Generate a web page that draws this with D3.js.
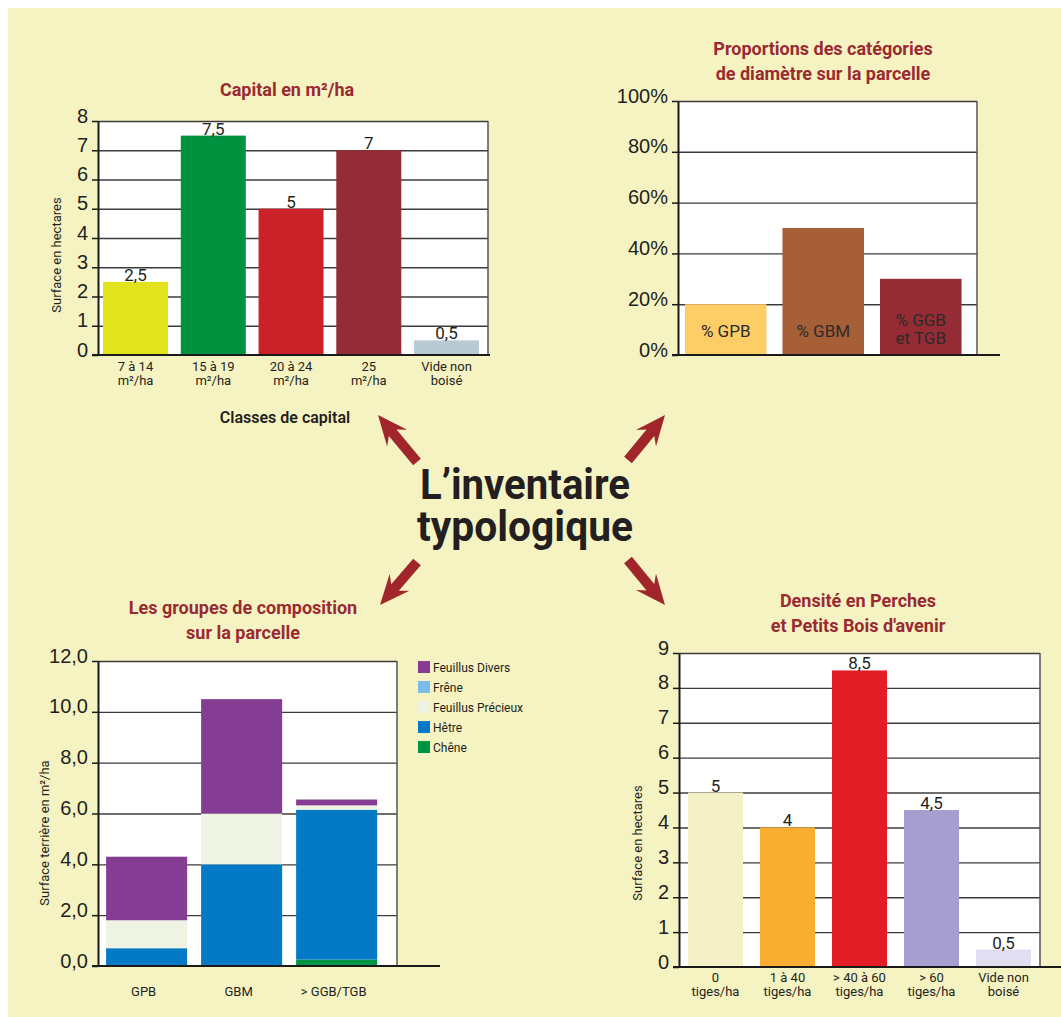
<!DOCTYPE html>
<html>
<head>
<meta charset="utf-8">
<script src="https://cdn.jsdelivr.net/npm/d3@7"></script>
<style>
body { margin: 0; background: #fff; }
svg { display: block; font-family: 'Roboto', 'Liberation Sans', sans-serif; }
.title { fill: #9a2a32; font-size: 18px; font-weight: bold; text-anchor: middle; }
.grid line { stroke: #3c3c3c; stroke-width: 1.4; }
.axis-y .domain { stroke: #1a1a1a; stroke-width: 2; }
.axis-y line { stroke: #1a1a1a; stroke-width: 1.5; }
.axis-y text { fill: #231f20; font-size: 20px; }
.cat { fill: #231f20; font-size: 13px; text-anchor: middle; }
.inlab { fill: #2b2b2b; font-size: 17px; text-anchor: middle; }
.val { fill: #231f20; font-size: 17px; text-anchor: middle; }
.ylabel { fill: #231f20; font-size: 13px; text-anchor: middle; }
.legend text { fill: #231f20; font-size: 12px; }
</style>
</head>
<body>
<svg id="page" width="1061" height="1017"></svg>
<script>
//CAPITAL CHART DATA
var capitalClasses = ['7 à 14\nm²/ha', '15 à 19\nm²/ha', '20 à 24\nm²/ha', '25\nm²/ha', 'Vide non\nboisé'];
var capitalSurface = [2.5, 7.5, 5, 7, 0.5];
var capitalTicks = [0, 1, 2, 3, 4, 5, 6, 7, 8];

//DIAMETER PROPORTIONS DATA
var diamCategories = ['% GPB', '% GBM', '% GGB\net TGB'];
var diamShare = [20, 50, 30];
var diamTicks = [0, 20, 40, 60, 80, 100];

//COMPOSITION GROUPS DATA (stacked, bottom to top)
var compoGroups = ['GPB', 'GBM', '> GGB/TGB'];
var compoSpecies = ['Chêne', 'Hêtre', 'Feuillus Précieux', 'Frêne', 'Feuillus Divers'];
var chene = [0, 0, 0.25];
var hetre = [0.7, 4.0, 5.9];
var feuillusPrecieux = [1.1, 2.0, 0.17];
var frene = [0, 0, 0];
var feuillusDivers = [2.5, 4.5, 0.23];
var compoTicks = [0, 2, 4, 6, 8, 10, 12];

//DENSITY DATA
var densiteClasses = ['0\ntiges/ha', '1 à 40\ntiges/ha', '> 40 à 60\ntiges/ha', '> 60\ntiges/ha', 'Vide non\nboisé'];
var densiteSurface = [5, 4, 8.5, 4.5, 0.5];
var densiteTicks = [0, 1, 2, 3, 4, 5, 6, 7, 8, 9];

//colours
var capitalColors = ['#e2e31b', '#00923f', '#cb2229', '#942b36', '#b9cad3'];
var diamColors = ['#fdcd68', '#a65f37', '#952b35'];
var speciesColors = {'Chêne': '#009444', 'Hêtre': '#0479c6', 'Feuillus Précieux': '#eef3e3', 'Frêne': '#79bde8', 'Feuillus Divers': '#853d93'};
var densiteColors = ['#f5f1c6', '#f8ae31', '#e21d26', '#a59ecf', '#e0def0'];

var comma = d => String(d).replace('.', ',');

var svg = d3.select('#page');

//page background
svg.append('rect').attr('x', 8).attr('y', 8).attr('width', 1053).attr('height', 1009).attr('fill', '#f6f3c2');

//build frame: white plot, gridlines, scales
function frame(c) {
    var x = d3.scaleBand().domain(c.cats).range([c.left, c.right])
        .paddingInner(c.pi).paddingOuter(c.po).align(c.align);
    var y = d3.scaleLinear().domain([0, c.ticks[c.ticks.length - 1]]).range([c.bottom, c.top]);
    var g = svg.append('g');

    g.append('rect')
        .attr('x', c.left).attr('y', c.top)
        .attr('width', c.right - c.left).attr('height', c.bottom - c.top)
        .attr('fill', '#fff');

    //y gridlines
    g.append('g')
        .attr('class', 'grid')
        .attr('transform', 'translate(' + c.left + ',0)')
        .call(d3.axisLeft(y).tickValues(c.ticks.slice(1)).tickSize(-(c.right - c.left)).tickFormat(''))
        .call(s => s.select('.domain').remove());

    //right border
    g.append('line')
        .attr('x1', c.right).attr('x2', c.right).attr('y1', c.top).attr('y2', c.bottom)
        .attr('stroke', '#555').attr('stroke-width', 1.5);

    return {g: g, x: x, y: y};
}

//axes drawn over bars
function axes(f, c) {
    f.g.append('g')
        .attr('class', 'axis-y')
        .attr('transform', 'translate(' + c.left + ',0)')
        .call(d3.axisLeft(f.y).tickValues(c.ticks).tickSize(6).tickSizeOuter(0).tickPadding(4).tickFormat(c.fmt))
        .call(s => s.selectAll('text').attr('dy', '0.05em'));

    f.g.append('line')
        .attr('x1', c.left - 6).attr('x2', c.axisEnd)
        .attr('y1', c.bottom).attr('y2', c.bottom)
        .attr('stroke', '#1a1a1a').attr('stroke-width', 2.2);
}

function multiline(sel, label, y0, lh) {
    label.split('\n').forEach((t, i) => {
        sel.append('tspan').attr('x', sel.attr('x')).attr('y', y0 + i * lh).text(t);
    });
}

function titleLines(lines, cx, y0) {
    lines.forEach((t, i) => {
        svg.append('text').attr('class', 'title').attr('x', cx).attr('y', y0 + i * 25).text(t);
    });
}

function ylabel(text, x, y) {
    svg.append('text').attr('class', 'ylabel')
        .attr('transform', 'translate(' + x + ',' + y + ') rotate(-90)')
        .text(text);
}

//SIMPLE BAR CHART
function simpleBars(c, values, colors) {
    var f = frame(c);
    var data = c.cats.map((k, i) => ({k: k, v: values[i], col: colors[i]}));

    f.g.selectAll('.bar').data(data).enter().append('rect')
        .attr('class', 'bar')
        .attr('x', d => f.x(d.k))
        .attr('y', d => f.y(d.v))
        .attr('width', f.x.bandwidth())
        .attr('height', d => f.y(0) - f.y(d.v))
        .attr('fill', d => d.col);

    if (c.values) {
        f.g.selectAll('.val').data(data).enter().append('text')
            .attr('class', 'val')
            .attr('x', d => f.x(d.k) + f.x.bandwidth() / 2)
            .attr('y', d => f.y(d.v) - 1)
            .text(d => comma(d.v));
    }
    axes(f, c);
    return f;
}

//1. Capital
var c1 = {cats: capitalClasses, ticks: capitalTicks, left: 98, right: 488, top: 121, bottom: 355,
          pi: 0.164, po: 0.09, align: 0.36, axisEnd: 490, fmt: d => d, values: true};
var f1 = simpleBars(c1, capitalSurface, capitalColors);
f1.g.selectAll('.cat').data(capitalClasses).enter().append('text')
    .attr('class', 'cat')
    .attr('x', d => f1.x(d) + f1.x.bandwidth() / 2)
    .each(function(d) { multiline(d3.select(this), d, c1.bottom + 16, 14); });
titleLines(['Capital en m²/ha'], 287, 96);
ylabel('Surface en hectares', 61, 255);
svg.append('text').attr('x', 285).attr('y', 423)
    .attr('text-anchor', 'middle').style('font-size', '16px').style('font-weight', '600').attr('fill', '#231f20')
    .text('Classes de capital');

//2. Diameter proportions
var c2 = {cats: diamCategories, ticks: diamTicks, left: 678, right: 977, top: 101, bottom: 355,
          pi: 0.164, po: 0.115, align: 0.31, axisEnd: 1000, fmt: d => d + '%', values: false};
var f2 = simpleBars(c2, diamShare, diamColors);
f2.g.selectAll('.inlab').data(diamCategories).enter().append('text')
    .attr('class', 'inlab')
    .attr('x', d => f2.x(d) + f2.x.bandwidth() / 2)
    .each(function(d) {
        var n = d.split('\n').length;
        multiline(d3.select(this), d, c2.bottom - 18 - (n - 1) * 11, 18);
    });
titleLines(['Proportions des catégories', 'de diamètre sur la parcelle'], 823, 55);

//3. Composition groups (stacked)
var c3 = {cats: compoGroups, ticks: compoTicks, left: 98, right: 397, top: 661, bottom: 966,
          pi: 0.147, po: 0.147, align: 0.29, axisEnd: 440, fmt: d => d3.format('.1f')(d).replace('.', ',')};
var f3 = frame(c3);
var speciesValues = {'Chêne': chene, 'Hêtre': hetre, 'Feuillus Précieux': feuillusPrecieux, 'Frêne': frene, 'Feuillus Divers': feuillusDivers};
var table = compoGroups.map((g, i) => {
    var row = {group: g};
    compoSpecies.forEach(s => row[s] = speciesValues[s][i]);
    return row;
});
var stack = d3.stack().keys(compoSpecies)(table);
f3.g.selectAll('.layer').data(stack).enter().append('g')
    .attr('fill', d => speciesColors[d.key])
    .selectAll('rect').data(d => d).enter().append('rect')
        .attr('x', d => f3.x(d.data.group))
        .attr('y', d => f3.y(d[1]))
        .attr('width', f3.x.bandwidth())
        .attr('height', d => f3.y(d[0]) - f3.y(d[1]));
axes(f3, c3);
f3.g.selectAll('.cat').data(compoGroups).enter().append('text')
    .attr('class', 'cat')
    .attr('x', d => f3.x(d) + f3.x.bandwidth() / 2 - 3)
    .attr('y', c3.bottom + 30)
    .text(d => d);
titleLines(['Les groupes de composition', 'sur la parcelle'], 243, 614);
ylabel('Surface terrière en m²/ha', 49, 833);

//legend
var legend = svg.append('g').attr('class', 'legend').attr('transform', 'translate(418,661)');
var legendItems = compoSpecies.slice().reverse();
var li = legend.selectAll('g').data(legendItems).enter().append('g')
    .attr('transform', (d, i) => 'translate(0,' + (i * 20) + ')');
li.append('rect').attr('width', 12).attr('height', 12).attr('fill', d => speciesColors[d]);
li.append('text').attr('x', 15).attr('y', 10.5).text(d => d);

//4. Density
var c4 = {cats: densiteClasses, ticks: densiteTicks, left: 679, right: 1040, top: 653, bottom: 967,
          pi: 0.236, po: 0.125, align: 0.5, axisEnd: 1061, fmt: d => d, values: true};
var f4 = simpleBars(c4, densiteSurface, densiteColors);
f4.g.selectAll('.cat').data(densiteClasses).enter().append('text')
    .attr('class', 'cat')
    .attr('x', d => f4.x(d) + f4.x.bandwidth() / 2)
    .each(function(d) { multiline(d3.select(this), d, c4.bottom + 15, 14); });
titleLines(['Densité en Perches', "et Petits Bois d'avenir"], 858, 607);
ylabel('Surface en hectares', 642, 843);

//CENTRE TITLE
svg.append('text').attr('x', 525).attr('y', 499)
    .attr('text-anchor', 'middle').style('font-size', '42px').style('font-weight', 'bold').attr('fill', '#231f20')
    .attr('textLength', 210).attr('lengthAdjust', 'spacingAndGlyphs')
    .text('L’inventaire');
svg.append('text').attr('x', 525).attr('y', 541)
    .attr('text-anchor', 'middle').style('font-size', '42px').style('font-weight', 'bold').attr('fill', '#231f20')
    .attr('textLength', 216).attr('lengthAdjust', 'spacingAndGlyphs')
    .text('typologique');

//arrows (tail -> tip)
var arrows = [[417, 462, 378, 415], [628, 460, 665, 415], [417, 562, 380, 605], [628, 560, 665, 605]];
arrows.forEach(a => {
    var dx = a[2] - a[0], dy = a[3] - a[1];
    var L = Math.sqrt(dx * dx + dy * dy), ang = Math.atan2(dy, dx) * 180 / Math.PI;
    svg.append('path')
        .attr('transform', 'translate(' + a[0] + ',' + a[1] + ') rotate(' + ang + ')')
        .attr('d', 'M' + L + ',0 L' + (L - 30) + ',-13 L' + (L - 23) + ',-5 L0,-5 L0,5 L' + (L - 23) + ',5 L' + (L - 30) + ',13 Z')
        .attr('fill', '#a0262b');
});
</script>
</body>
</html>
